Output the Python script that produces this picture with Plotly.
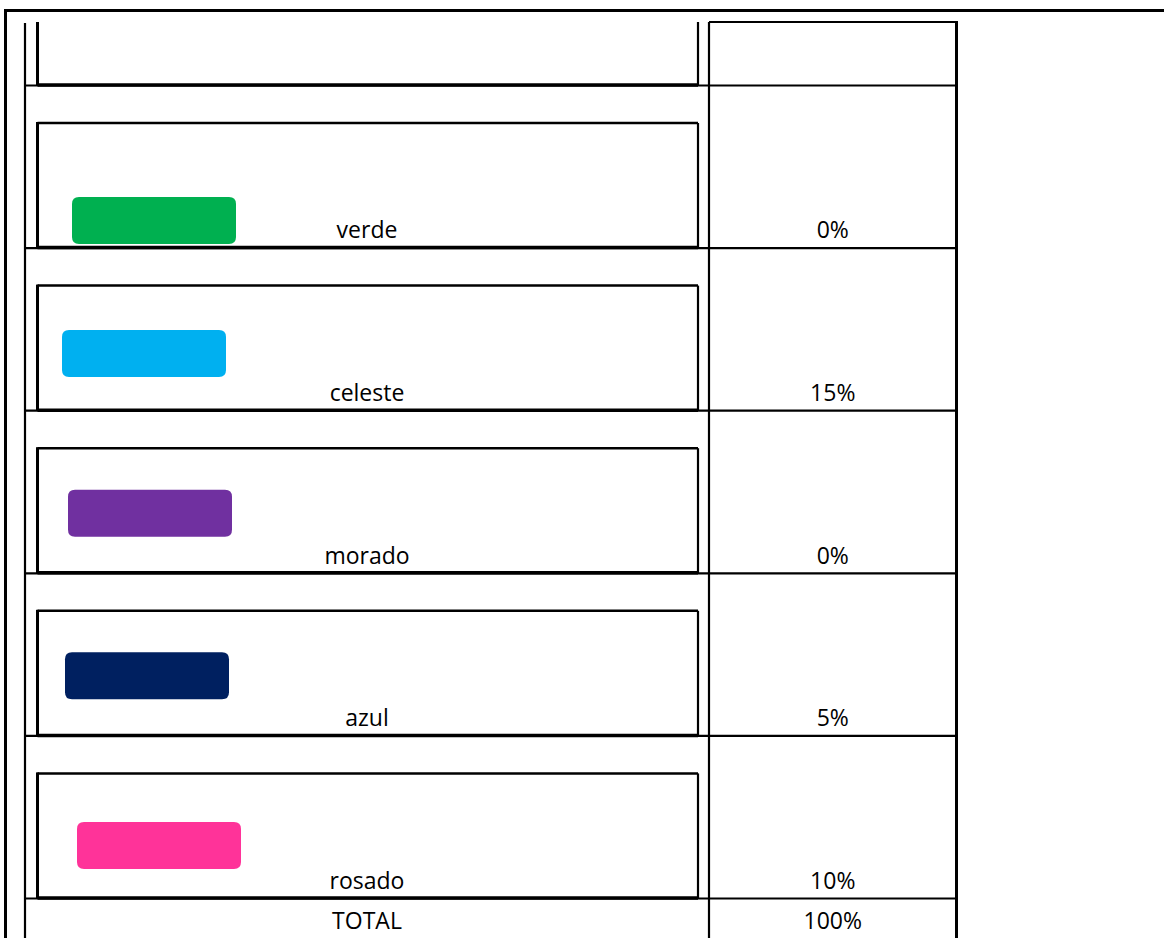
import plotly.graph_objects as go

# ---- data ----
categories = ["verde", "celeste", "morado", "azul", "rosado"]
percentages = [0, 15, 0, 5, 10]
colors = ["#00B050", "#00B0F0", "#7030A0", "#002060", "#FF3399"]
total_label = "TOTAL"
total_value = 100

# ---- layout constants (pixel space) ----
W, H = 1164, 938
X_OUT = 5.5
Y_OUT = 10.5
X_L = 25          # table left
X_BOX_L = 37.5    # inner box left
X_BOX_R = 698     # inner box right
X_C = 709         # value column left
X_R = 956.5       # table right
Y_HEAD = 22       # header top
ROW0 = 85.5
ROW_H = 162.6
BOX_OFF = 37.5
# swatch placement (left x, top offset from row top)
sw_left = [72, 62, 68, 65, 77]
sw_top_off = [111.5, 82, 79, 79, 86]
SW_W, SW_H, SW_R = 164, 47, 7

n = len(categories)
seps = [ROW0 + i * ROW_H for i in range(n + 1)]

shapes = []

def line(x0, y0, x1, y1, w):
    shapes.append(dict(type="line", x0=x0, y0=y0, x1=x1, y1=y1,
                       xref="x", yref="y", line=dict(color="black", width=w)))

# outer frame
line(X_OUT, Y_OUT - 1.5, X_OUT, H, 3)
line(X_OUT - 1.5, Y_OUT, W, Y_OUT, 3)
# table verticals
line(X_L, 23, X_L, H, 2.2)
line(X_C, Y_HEAD, X_C, H, 2.2)
line(X_R, Y_HEAD - 1, X_R, H, 3)
line(X_C, Y_HEAD, X_R, Y_HEAD, 2.2)
# header partial box
line(X_BOX_L, Y_HEAD, X_BOX_L, ROW0, 3)
line(X_BOX_R, Y_HEAD, X_BOX_R, ROW0, 2.2)
# row separators
for y in seps:
    line(X_L, y, X_R, y, 2.2)
    line(X_BOX_L, y - 0.5, X_BOX_R, y - 0.5, 3.5)
# inner boxes
for i in range(n):
    top = seps[i] + BOX_OFF
    bot = seps[i + 1]
    line(X_BOX_L, top - 1, X_BOX_L, bot, 3)
    line(X_BOX_R, top, X_BOX_R, bot, 2.2)
    line(X_BOX_L, top, X_BOX_R, top, 2.5)

# swatches (rounded rects)
def rrect(x0, y0, w, h, r):
    x1, y1 = x0 + w, y0 + h
    return (f"M {x0+r},{y0} L {x1-r},{y0} Q {x1},{y0} {x1},{y0+r} "
            f"L {x1},{y1-r} Q {x1},{y1} {x1-r},{y1} L {x0+r},{y1} "
            f"Q {x0},{y1} {x0},{y1-r} L {x0},{y0+r} Q {x0},{y0} {x0+r},{y0} Z")

for i in range(n):
    shapes.append(dict(type="path", xref="x", yref="y",
                       path=rrect(sw_left[i], seps[i] + sw_top_off[i], SW_W, SW_H, SW_R),
                       fillcolor=colors[i], line=dict(width=0)))

FONT = dict(family="Open Sans", size=23, color="black")
label_x = (X_L + X_C) / 2
value_x = (X_C + X_R) / 2
text_y = [seps[i + 1] - 15.5 for i in range(n)]

fig = go.Figure()
fig.add_trace(go.Scatter(x=[label_x] * n, y=text_y, mode="text",
                         text=categories, textfont=FONT, hoverinfo="skip"))
fig.add_trace(go.Scatter(x=[value_x] * n, y=text_y, mode="text",
                         text=[f"{p}%" for p in percentages], textfont=FONT, hoverinfo="skip"))
fig.add_trace(go.Scatter(x=[label_x, value_x], y=[seps[-1] + 25] * 2, mode="text",
                         text=[total_label, f"{total_value}%"], textfont=FONT, hoverinfo="skip"))

fig.update_layout(
    width=W, height=H, margin=dict(l=0, r=0, t=0, b=0),
    paper_bgcolor="white", plot_bgcolor="white", showlegend=False,
    xaxis=dict(range=[0, W], visible=False, fixedrange=True),
    yaxis=dict(range=[H, 0], visible=False, fixedrange=True),
    shapes=shapes,
)
fig.write_html("out.html", config={"displayModeBar": False},
               post_script="document.body.style.margin='0';document.body.style.overflow='hidden';")
